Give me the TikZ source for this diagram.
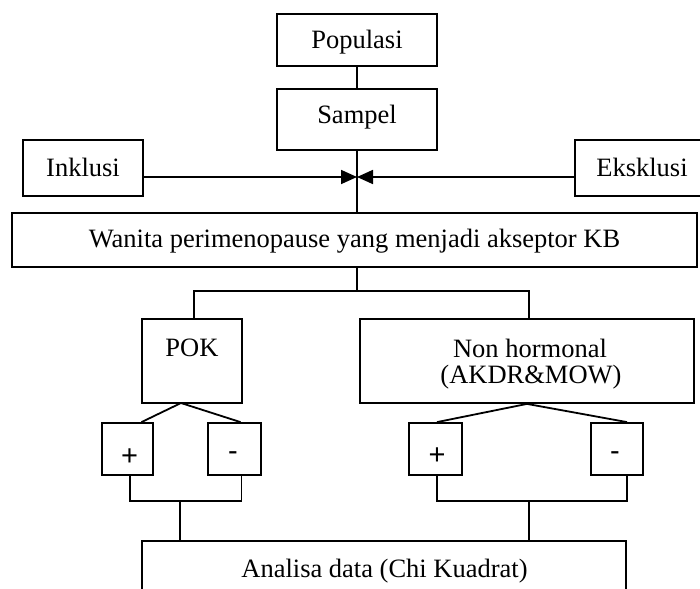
\documentclass[tikz,border=0pt]{standalone}
\usepackage{fontspec}
\setmainfont{Liberation Serif}
\newfontfamily\pmfont{Liberation Sans}
\usetikzlibrary{arrows.meta,calc}
\begin{document}
\begin{tikzpicture}[x=1pt,y=-1pt,
  box/.style={draw,line width=1.8pt,inner sep=0pt,rectangle},
  lab/.style={inner sep=0pt,anchor=base,font=\fontsize{26.5}{27}\selectfont},
  pm/.style={inner sep=0pt,anchor=center,font=\pmfont\fontsize{29}{30}\selectfont},
  conn/.style={line width=1.8pt},
  arr/.style={line width=1.8pt,-{Triangle[length=16pt,width=14pt]}}]
\useasboundingbox (0,0) rectangle (700,588);
\clip (0,0) rectangle (700,588);
% boxes
\node[box,minimum width=160pt,minimum height=52pt] (pop) at (357,40) {};
\node[box,minimum width=160pt,minimum height=61pt] (samp) at (357,119.5) {};
\node[box,minimum width=120pt,minimum height=56pt] (incl) at (83,168) {};
\node[box,minimum width=137pt,minimum height=56pt] (eks) at (643.5,168) {};
\node[box,minimum width=685pt,minimum height=54pt] (wan) at (354.5,240) {};
\node[box,minimum width=100pt,minimum height=84pt] (pok) at (192,361) {};
\node[box,minimum width=334pt,minimum height=84pt] (nh) at (527,361) {};
\node[box,minimum width=51pt,minimum height=52pt] (p1) at (127.5,449) {};
\node[box,minimum width=53pt,minimum height=52pt] (m1) at (234.5,449) {};
\node[box,minimum width=53pt,minimum height=52pt] (p2) at (435.5,449) {};
\node[box,minimum width=52pt,minimum height=52pt] (m2) at (617,449) {};
\node[box,minimum width=484pt,minimum height=69pt] (ana) at (384,575.5) {};
% texts
\node[lab] (popT) at (357,49) {Populasi};
\node[lab] (sampT) at (357,124) {Sampel};
\node[lab] (inclT) at (83,176) {Inklusi};
\node[lab] (eksT) at (642,176) {Eksklusi};
\node[lab] (wanT) at (354.5,247) {Wanita perimenopause yang menjadi akseptor KB};
\node[lab] (pokT) at (192,356) {POK};
\node[lab] (nhT1) at (530,357) {Non hormonal};
\node[lab] (nhT2) at (531,383) {(AKDR\&MOW)};
\node[lab] (anaT) at (384.5,577) {Analisa data (Chi Kuadrat)};
\node[pm] (p1T) at (129.7,456.7) {+};
\node[pm] (m1T) at (233,456.5) {-};
\node[pm] (p2T) at (437,456) {+};
\node[pm] (m2T) at (615,456.5) {-};
% connectors
\coordinate (j) at (357,177);
\draw[conn] (pop.south) -- (samp.north);
\draw[conn] (samp.south) -- (samp.south |- wan.north);
\draw[arr] (incl.east |- j) -- (j);
\draw[arr] (eks.west |- j) -- (j);
\coordinate (b) at (357,292);
\draw[conn] (b |- wan.south) -- (b);
\draw[conn] ([xshift=2pt]pok.north) -- ++(0,-27) -| ([xshift=2pt]nh.north);
\coordinate (pa) at (181,403);
\draw[conn] ([xshift=14pt]p1.north) -- (pa) -- ([xshift=6pt]m1.north);
\draw[conn] ([xshift=1.5pt]p2.north) -- (nh.south) -- ([xshift=10pt]m2.north);
\draw[conn] ([xshift=2.5pt]p1.south) -- ++(0,25) -| ([xshift=7pt]m1.south);
\draw[conn] ([xshift=1.5pt]p2.south) -- ++(0,25) -| ([xshift=10pt]m2.south);
\coordinate (ja) at (180,500);
\coordinate (jb) at (529,500);
\draw[conn] (ja) -- (ja |- ana.north);
\draw[conn] (jb) -- (jb |- ana.north);
\end{tikzpicture}
\end{document}
